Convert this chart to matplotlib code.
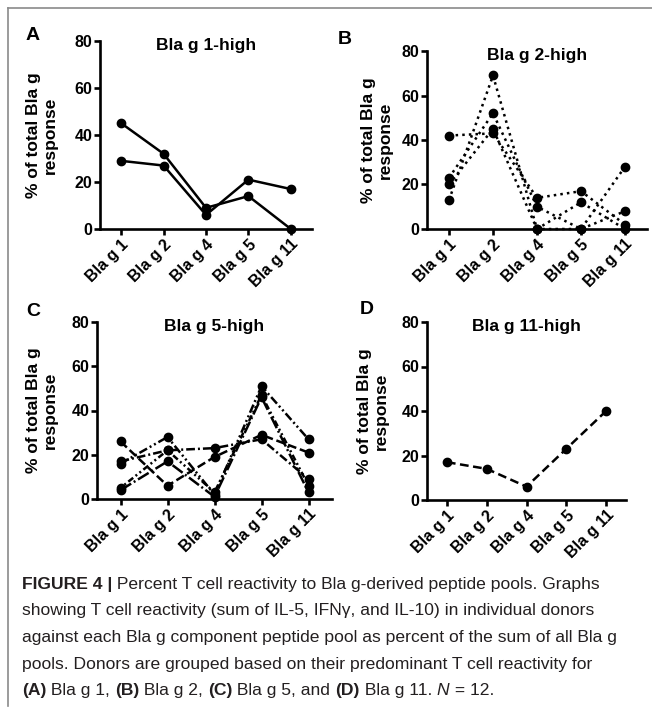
import matplotlib
matplotlib.use('Agg')
import matplotlib.pyplot as plt
from matplotlib.lines import Line2D
from matplotlib import font_manager

# pools on the x axis
pools = ['Bla g 1', 'Bla g 2', 'Bla g 4', 'Bla g 5', 'Bla g 11']

# % of total Bla g response per donor
bla1_high = [[45, 32, 9, 14, 0],
             [29, 27, 6, 21, 17]]
bla2_high = [[42, 43, 14, 17, 2],
             [13, 69, 0, 12, 0],
             [23, 52, 10, 0, 28],
             [20, 45, 0, 0, 8]]
bla5_high = [[26, 6, 19, 29, 21],
             [17, 22, 23, 27, 9],
             [16, 28, 2, 51, 27],
             [5, 22, 3, 47, 6],
             [4, 17, 1, 46, 3]]
bla11_high = [[17, 14, 6, 23, 40]]

titles = ['Bla g 1-high', 'Bla g 2-high', 'Bla g 5-high', 'Bla g 11-high']
letters = ['A', 'B', 'C', 'D']
yticks = [0, 20, 40, 60, 80]

plt.rcParams['font.family'] = ['Liberation Sans', 'DejaVu Sans']
W, H = 652, 718
fig = plt.figure(figsize=(W / 100, H / 100), dpi=100)

# axes boxes in pixels: left, right, bottom(0), top(80)
boxes = [(100, 312, 229, 41), (427, 647, 229, 51),
         (97, 332, 499, 322), (427, 626, 500, 322)]
label_x = [42, 377, 42, 373]
letter_xy = [(33, 36), (345, 40), (33, 311), (367, 310)]

styles_c = [(0, (3.5, 1.5)),
            (0, (3.5, 1.2, 0.8, 1.2)),
            (0, (3.5, 1.2, 0.8, 1.2, 0.8, 1.2)),
            (0, (0.8, 1.2, 0.8, 1.2, 2.5, 1.2)),
            (0, (5, 1.2, 0.8, 1.2))]

groups = [bla1_high, bla2_high, bla5_high, bla11_high]
for i, donors in enumerate(groups):
    l, r, b, t = boxes[i]
    ax = fig.add_axes([l / W, (H - b) / H, (r - l) / W, (b - t) / H])
    for j, vals in enumerate(donors):
        if i == 0:
            ls = '-'
        elif i == 1:
            ls = ':'
        elif i == 2:
            ls = styles_c[j]
        else:
            ls = (0, (3.5, 1.8))
        ax.plot(range(len(pools)), vals, color='black', lw=1.8, ls=ls,
                marker='o', ms=6, clip_on=False, zorder=3)
    ax.set_xlim(-0.5, 4.5)
    ax.set_ylim(0, 80)
    ax.set_yticks(yticks)
    ax.set_xticks(range(len(pools)))
    ax.set_xticklabels(pools, rotation=45, ha='right', rotation_mode='anchor',
                       fontweight='bold', fontsize=11.5)
    for lab in ax.get_yticklabels():
        lab.set_fontweight('bold')
        lab.set_fontsize(11.5)
    for s in ['top', 'right']:
        ax.spines[s].set_visible(False)
    for s in ['left', 'bottom']:
        ax.spines[s].set_linewidth(1.9)
    ax.tick_params(direction='out', length=4, width=1.9, pad=1.5)
    ax.text(0.5, 0.975, titles[i], transform=ax.transAxes, ha='center',
            va='center', fontsize=12.5, fontweight='bold')
    ax.set_ylabel('% of total Bla g\nresponse', fontsize=12.5,
                  fontweight='bold', va='center', linespacing=1.15)
    ax.yaxis.set_label_coords((label_x[i] - l) / (r - l), 0.5)
    fig.text(letter_xy[i][0] / W, 1 - letter_xy[i][1] / H, letters[i],
             fontsize=14, fontweight='bold', ha='center', va='center')

# grey frame
frame = '#8a8a8a'
fig.add_artist(Line2D([8 / W, 8 / W], [1 - 8 / H, 1 - 706 / H],
                      color=frame, lw=1.2))
fig.add_artist(Line2D([8 / W, 1], [1 - 8 / H, 1 - 8 / H], color=frame, lw=1.2))

# caption with mixed weights
names = {f.name for f in font_manager.fontManager.ttflist}
cap_font = 'Liberation Sans Narrow' if 'Liberation Sans Narrow' in names else 'Liberation Sans'
cap_size = 15 if cap_font == 'Liberation Sans Narrow' else 12.6
cap_col = '#231f20'
cax = fig.add_axes([0, 0, 1, 1])
cax.axis('off')

caption = [
    [('FIGURE 4 |', 'bold'), (' Percent T cell reactivity to Bla g-derived peptide pools. Graphs', 'normal')],
    [('showing T cell reactivity (sum of IL-5, IFN\u03b3, and IL-10) in individual donors', 'normal')],
    [('against each Bla g component peptide pool as percent of the sum of all Bla g', 'normal')],
    [('pools. Donors are grouped based on their predominant T cell reactivity for', 'normal')],
    [('(A)', 'bold'), (' Bla g 1, ', 'normal'), ('(B)', 'bold'), (' Bla g 2, ', 'normal'),
     ('(C)', 'bold'), (' Bla g 5, and ', 'normal'), ('(D)', 'bold'),
     (' Bla g 11. ', 'normal'), ('N', 'italic'), (' = 12.', 'normal')],
]
y0 = 589
for k, line in enumerate(caption):
    yf = 1 - (y0 + k * 26.5) / H
    prev = None
    for txt, w in line:
        kw = dict(fontsize=cap_size, color=cap_col, family=[cap_font, 'DejaVu Sans'],
                  va='baseline', ha='left')
        if w == 'italic':
            kw['style'] = 'italic'
        else:
            kw['fontweight'] = w
        if prev is None:
            prev = cax.text(22 / W, yf, txt, transform=fig.transFigure, **kw)
        else:
            prev = cax.annotate(txt, xy=(1, yf), xycoords=(prev, 'figure fraction'), **kw)

fig.savefig('out.png', dpi=100)
